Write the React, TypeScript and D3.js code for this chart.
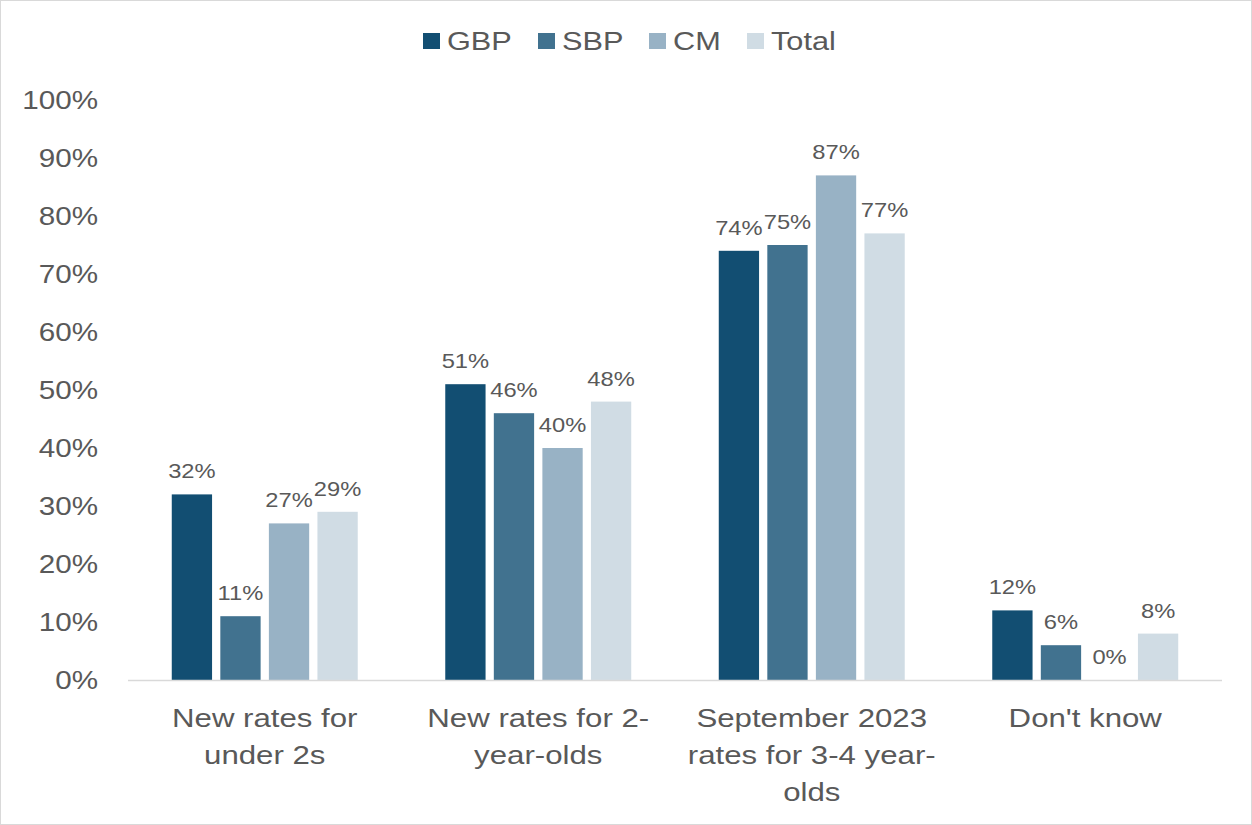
import React from "react";
import * as d3 from "d3";

const categories = ["New rates for under 2s", "New rates for 2-year-olds", "September 2023 rates for 3-4 year-olds", "Don't know"];
const categoryLines = [
  ["New rates for", "under 2s"],
  ["New rates for 2-", "year-olds"],
  ["September 2023", "rates for 3-4 year-", "olds"],
  ["Don't know"],
];
const seriesNames = ["GBP", "SBP", "CM", "Total"];
const seriesColors = ["#124E72", "#41728F", "#98B2C5", "#D0DCE4"];
const GBP = [32, 51, 74, 12];
const SBP = [11, 46, 75, 6];
const CM = [27, 40, 87, 0];
const Total = [29, 48, 77, 8];
const seriesValues = [GBP, SBP, CM, Total];
const yTicks = [0, 10, 20, 30, 40, 50, 60, 70, 80, 90, 100];

function T(props: { x: number; y: number; sx: number; size: number; anchor?: string; fill: string; children: React.ReactNode }) {
  return (
    <text
      transform={`translate(${props.x},${props.y}) scale(${props.sx},1)`}
      fontSize={props.size}
      fill={props.fill}
      textAnchor={props.anchor || "start"}
    >
      {props.children}
    </text>
  );
}

export default function App() {
  const W = 1252, H = 825;
  const left = 128, right = 1222, top = 100, bottom = 680;
  const font = "Liberation Sans, Arial, sans-serif";
  const text = "#595959";
  const x0 = d3.scaleBand<string>().domain(categories).range([left, right]).paddingInner(0).paddingOuter(0);
  const y = d3.scaleLinear().domain([0, 100]).range([bottom, top]);
  const groupW = x0.bandwidth() * 0.68;
  const x1 = d3.scaleBand<string>().domain(seriesNames).range([0, groupW]).paddingInner(0.17).paddingOuter(0);
  const legendX = [423, 538, 649, 747];
  return (
    <svg width={W} height={H} style={{ position: "absolute", left: 0, top: 0, background: "#fff" }} fontFamily={font}>
      <rect x={0.5} y={0.5} width={W - 1} height={H - 1} fill="#fff" stroke="#D9D9D9" />
      {seriesNames.map((s, i) => (
        <g key={s}>
          <rect x={legendX[i]} y={33} width={17} height={16} fill={seriesColors[i]} />
          <T x={legendX[i] + 24} y={50} sx={1.18} size={26} fill={text}>{s}</T>
        </g>
      ))}
      {yTicks.map((t) => (
        <T key={t} x={98} y={y(t) + 9} sx={1.14} size={26} fill={text} anchor="end">{t}%</T>
      ))}
      {categories.map((c, ci) => {
        const gx = (x0(c) as number) + (x0.bandwidth() - groupW) / 2;
        return (
          <g key={c}>
            {seriesNames.map((s, si) => {
              const v = seriesValues[si][ci];
              const bx = gx + (x1(s) as number);
              return (
                <g key={s}>
                  <rect x={bx} y={y(v)} width={x1.bandwidth()} height={bottom - y(v)} fill={seriesColors[si]} />
                  <T x={bx + x1.bandwidth() / 2} y={y(v) - 16} sx={1.13} size={21} fill={text} anchor="middle">{v}%</T>
                </g>
              );
            })}
            {categoryLines[ci].map((ln, li) => (
              <T key={li} x={(x0(c) as number) + x0.bandwidth() / 2} y={727 + li * 37} sx={1.2} size={26} fill={text} anchor="middle">{ln}</T>
            ))}
          </g>
        );
      })}
      <line x1={left} x2={right} y1={bottom + 0.5} y2={bottom + 0.5} stroke="#D9D9D9" strokeWidth={1.5} />
    </svg>
  );
}
